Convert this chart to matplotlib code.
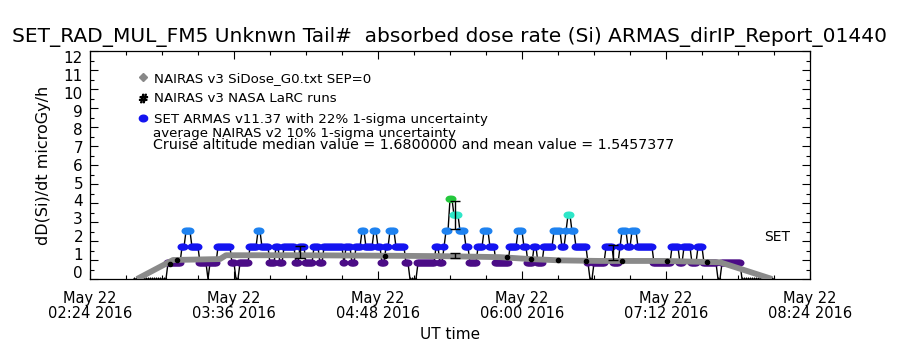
import numpy as np
import matplotlib
matplotlib.use("Agg")
import matplotlib.pyplot as plt
from matplotlib import font_manager
from matplotlib.lines import Line2D
from matplotlib.ticker import MultipleLocator, FixedLocator

names = {f.name for f in font_manager.fontManager.ttflist}
FAM = ['Liberation Sans Narrow'] if 'Liberation Sans Narrow' in names else ['DejaVu Sans']
plt.rcParams['font.family'] = FAM + ['DejaVu Sans']

# ---------------- data (time = minutes since 2016-05-22 02:24 UT) ----------------
title = "SET_RAD_MUL_FM5 Unknwn Tail#  absorbed dose rate (Si) ARMAS_dirIP_Report_01440"
xtick_minutes = [0, 72, 144, 216, 288, 360]
xtick_labels = ["May 22\n02:24 2016", "May 22\n03:36 2016", "May 22\n04:48 2016",
                "May 22\n06:00 2016", "May 22\n07:12 2016", "May 22\n08:24 2016"]

# ARMAS dose rate: quantised levels (multiples of 0.84), run-length encoded
arm_quantum = 0.84
arm_run_start = [22.5, 39, 45.5, 48, 50.5, 55, 58.5, 60, 63.5, 70.5, 72.5, 75, 79.5, 84, 86,
                 89.5, 92.5, 94.5, 96.5, 103, 105, 107.5, 111.5, 115, 117, 126.5, 128, 130.5,
                 133, 135.5, 137.5, 141.5, 143.5, 146, 148, 149.5, 152.5, 157.5, 160, 164,
                 172.5, 175, 176.5, 178, 179.5, 181.5, 185, 187.5, 189.5, 193.5, 196.5, 200,
                 203, 210, 214, 217, 219, 221.5, 224, 226.5, 231.5, 235.5, 237.5, 239, 241,
                 243, 249, 250, 251.5, 257.5, 261.5, 264.5, 265.5, 268.5, 271, 274, 281.5,
                 290.5, 294.5, 296.5, 301, 303.5, 306.5, 313.5, 315.5, 325.5]
arm_run_level = [0, 1, 2, 3, 2, 1, 0, 1, 2, 1, 0, 1, 2, 3, 2,
                 1, 2, 1, 2, 1, 2, 1, 2, 1, 2, 1, 2, 1,
                 2, 3, 2, 3, 2, 1, 2, 3, 2, 1, 0, 1,
                 2, 1, 2, 3, 5, 4, 3, 2, 1, 2, 3, 2,
                 1, 2, 3, 2, 1, 2, 1, 2, 3, 2, 3, 4, 3,
                 2, 1, 0, 1, 2, 1, 2, 3, 2, 3, 2, 1,
                 2, 1, 2, 1, 2, 1, 0, 1, 0]
arm_end = 342.5
arm_cadence = 1.0
level_colors = ['#000000', '#4b0c86', '#1414f0', '#1e82f0', '#2ee6c8', '#24c83c']

# NAIRAS v3 SiDose_G0 SEP=0
nairas_t = [23.5, 41.5, 65, 68, 105, 155, 177.5, 205, 220, 235, 255, 287.5, 315, 341]
nairas_v = [0.0, 1.0, 1.05, 1.25, 1.25, 1.22, 1.2, 1.15, 1.05, 0.98, 0.95, 0.95, 0.88, 0.0]

# NAIRAS v3 NASA LaRC runs
larc_t = [40, 43.5, 147.5, 208.5, 220.5, 234, 248, 266, 288.5, 308.5]
larc_v = [0.8, 1.0, 1.22, 1.15, 1.05, 0.98, 0.95, 0.95, 0.95, 0.9]

# uncertainty bars (ARMAS 22 %, NAIRAS v2 10 %)
err_t = [105, 182.5, 261.5, 182.5]
err_v = [1.42, 3.36, 1.40, 1.24]
err_e = [0.33, 0.74, 0.40, 0.13]

legend_labels = ["NAIRAS v3 SiDose_G0.txt SEP=0", "NAIRAS v3 NASA LaRC runs",
                 "SET ARMAS v11.37 with 22% 1-sigma uncertainty"]
note1 = "average NAIRAS v2 10% 1-sigma uncertainty"
note2 = "Cruise altitude median value = 1.6800000 and mean value = 1.5457377"

# ---------------- expand ARMAS runs ----------------
arm_t = np.arange(22.0, arm_end + 0.01, arm_cadence)
idx = np.searchsorted(np.array(arm_run_start), arm_t, side='right') - 1
idx = np.clip(idx, 0, len(arm_run_level) - 1)
arm_lvl = np.array(arm_run_level)[idx]
arm_v = arm_lvl * arm_quantum

# elliptical blob marker
th = np.linspace(0, 2 * np.pi, 25)
blob = np.column_stack([1.25 * np.cos(th), np.sin(th)])

# ---------------- figure ----------------
fig = plt.figure(figsize=(9, 3.5), dpi=100)
L, R, B, T = 90 / 900, 810 / 900, 1 - 279 / 350, 1 - 51 / 350
ax = fig.add_axes([L, B, R - L, T - B])

ax.plot(arm_t, arm_v, color='black', lw=1.0, zorder=2)
nz = arm_lvl > 0
ax.scatter(arm_t[nz], arm_v[nz], c=[level_colors[k] for k in arm_lvl[nz]],
           s=42, marker=blob, linewidths=0, zorder=3)
ax.scatter(arm_t[~nz], arm_v[~nz], c='black', s=10, marker='|', linewidths=0.8, zorder=3)

ax.plot(nairas_t, nairas_v, color='#8a8a8a', lw=4.2, solid_capstyle='butt', zorder=4)
ax.plot(larc_t, larc_v, ls='none', marker='o', ms=3, color='black', zorder=5)
ax.errorbar(err_t, err_v, yerr=err_e, fmt='none', ecolor='black', elinewidth=1.0,
            capsize=3.5, capthick=1.0, zorder=6)

ax.set_xlim(0, 360)
ax.set_ylim(0, 12)
ax.xaxis.set_major_locator(FixedLocator(xtick_minutes))
ax.xaxis.set_minor_locator(MultipleLocator(18))
ax.set_xticklabels(xtick_labels, fontsize=10.5, linespacing=1.0)
ax.yaxis.set_major_locator(MultipleLocator(1))
ax.yaxis.set_minor_locator(MultipleLocator(0.5))
ax.tick_params(which='both', direction='in', top=True, right=True, width=0.8)
ax.tick_params(which='major', length=5.5)
ax.tick_params(which='minor', length=3)
ax.tick_params(axis='x', pad=9)
ax.tick_params(axis='y', labelleft=False)
for s in ax.spines.values():
    s.set_linewidth(0.9)

# y tick labels (IDL-style placement)
axl = fig.add_axes([L, B, R - L, T - B], frameon=False)
axl.set_ylim(-0.39, 12.35)
axl.set_yticks(range(13))
axl.set_yticklabels([str(i) for i in range(13)], fontsize=11)
axl.tick_params(axis='y', length=0, pad=5)
axl.set_xticks([])
axl.patch.set_visible(False)
axl.set_ylabel("dD(Si)/dt microGy/h", fontsize=11.5, labelpad=9)

ax.set_xlabel("UT time", fontsize=11, labelpad=4)
fig.text(0.5, 1 - 37 / 350, title, ha='center', va='center', fontsize=14.5)

handles = [
    Line2D([], [], ls='none', marker='D', ms=4, color='#888888'),
    Line2D([], [], ls='none', marker='$\\#$', ms=6, color='black'),
    Line2D([], [], ls='none', marker=blob, ms=6, color='#1414f0'),
]
ax.legend(handles, legend_labels, loc='upper left', bbox_to_anchor=(0.066, 0.908),
          frameon=False, fontsize=9.6, handlelength=0.8, handletextpad=0.45,
          labelspacing=0.55, borderpad=0, borderaxespad=0)
ax.text(0.088, 1 - (133 - 51) / 228, note1, transform=ax.transAxes, fontsize=9.6, va='center')
ax.text(0.088, 1 - (145 - 51) / 228, note2, transform=ax.transAxes, fontsize=10.3, va='center')
ax.text(0.972, (279 - 237) / 228, "SET", transform=ax.transAxes, fontsize=10,
        ha='right', va='center')

fig.savefig("out.png", dpi=100)
